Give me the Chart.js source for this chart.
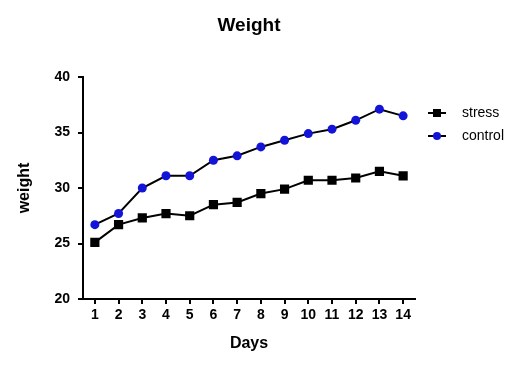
<!DOCTYPE html>
<html>
<head>
<meta charset="utf-8">
<script src="https://cdn.jsdelivr.net/npm/chart.js@4"></script>
<style>
  html, body { margin: 0; padding: 0; background: #fff; }
  #wrap { width: 525px; height: 366px; }
</style>
</head>
<body>
<div id="wrap"><canvas id="weightChart" width="525" height="366"></canvas></div>
<script>
const days = ['1', '2', '3', '4', '5', '6', '7', '8', '9', '10', '11', '12', '13', '14'];
const stress = [25.1, 26.7, 27.3, 27.7, 27.5, 28.5, 28.7, 29.5, 29.9, 30.7, 30.7, 30.9, 31.5, 31.1];
const control = [26.7, 27.7, 30.0, 31.1, 31.1, 32.5, 32.9, 33.7, 34.3, 34.9, 35.3, 36.1, 37.1, 36.5];
const yTicks = [20, 25, 30, 35, 40];

const fontFam = '"Liberation Sans", Arial, sans-serif';

// legend drawn by hand: a short line with the marker, then the label
const sideLegend = {
  id: 'sideLegend',
  afterDraw(chart) {
    const ctx = chart.ctx;
    const x0 = 428, x1 = 446;
    chart.data.datasets.forEach(function(ds, i) {
      const y = 113 + i * 23;
      ctx.save();
      ctx.strokeStyle = ds.borderColor;
      ctx.lineWidth = 2;
      ctx.beginPath();
      ctx.moveTo(x0, y);
      ctx.lineTo(x1, y);
      ctx.stroke();
      ctx.fillStyle = ds.pointBackgroundColor;
      const cx = (x0 + x1) / 2;
      if (ds.pointStyle === 'rect') {
        ctx.fillRect(cx - 4, y - 4, 8, 8);
      } else {
        ctx.beginPath();
        ctx.arc(cx, y, 4, 0, Math.PI * 2);
        ctx.fill();
      }
      ctx.fillStyle = '#000';
      ctx.font = '14px ' + fontFam;
      ctx.textBaseline = 'middle';
      ctx.fillText(ds.label, 462, y);
      ctx.restore();
    });
  }
};

const ctx = document.getElementById('weightChart').getContext('2d');
new Chart(ctx, {
  type: 'line',
  data: {
    labels: days,
    datasets: [{
      label: 'stress',
      data: stress,
      borderColor: '#000000',
      borderWidth: 2,
      pointStyle: 'rect',
      pointRadius: 6.5,
      pointBackgroundColor: '#000000',
      pointBorderColor: '#000000',
      pointBorderWidth: 0
    }, {
      label: 'control',
      data: control,
      borderColor: '#000000',
      borderWidth: 2,
      pointStyle: 'circle',
      pointRadius: 4.5,
      pointBackgroundColor: '#1414d8',
      pointBorderColor: '#1414d8',
      pointBorderWidth: 0
    }]
  },
  options: {
    responsive: false,
    animation: false,
    layout: { padding: { left: 0, right: 110, top: 0, bottom: 0 } },
    plugins: {
      legend: { display: false },
      tooltip: { enabled: false },
      title: {
        display: true,
        fullSize: false,
        text: 'Weight',
        color: '#000',
        font: { family: fontFam, size: 19, weight: 'bold' },
        padding: { top: 14.6, bottom: 39.6 }
      }
    },
    scales: {
      x: {
        type: 'category',
        offset: true,
        afterFit(axis) { axis.height = 67; },
        grid: { display: true, drawOnChartArea: false, offset: false, tickLength: 5, color: '#000', lineWidth: 2 },
        border: { display: true, color: '#000', width: 2 },
        ticks: { color: '#000', padding: 3, maxRotation: 0, font: { family: fontFam, size: 14, weight: 'bold' } },
        title: { display: true, text: 'Days', color: '#000', padding: { top: 0, bottom: 13 }, font: { family: fontFam, size: 16, weight: 'bold' } }
      },
      y: {
        min: 20,
        max: 40,
        afterFit(axis) { axis.width = 83; },
        afterBuildTicks(axis) { axis.ticks = yTicks.map(v => ({ value: v })); },
        grid: { display: true, drawOnChartArea: false, tickLength: 5, color: '#000', lineWidth: 2 },
        border: { display: true, color: '#000', width: 2 },
        ticks: { color: '#000', padding: 8, font: { family: fontFam, size: 14, weight: 'bold' } },
        title: { display: true, text: 'weight', color: '#000', padding: { top: 15.4, bottom: 0 }, font: { family: fontFam, size: 16, weight: 'bold' } }
      }
    }
  },
  plugins: [sideLegend]
});
</script>
</body>
</html>
